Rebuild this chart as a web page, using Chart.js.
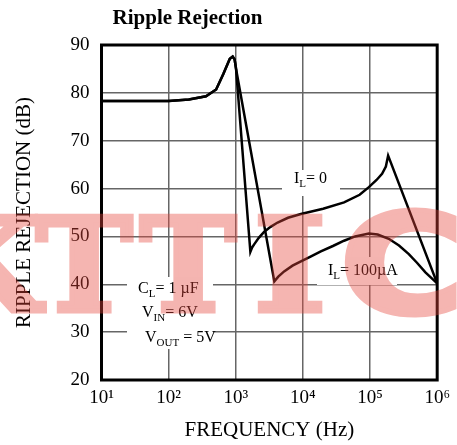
<!DOCTYPE html>
<html>
<head>
<meta charset="utf-8">
<script src="https://cdn.jsdelivr.net/npm/chart.js@4"></script>
<style>
  html, body { margin: 0; padding: 0; background: #fff; }
  canvas { display: block; }
</style>
</head>
<body>
<canvas id="ripple" width="457" height="445"></canvas>
<script>
// values
const freqTicks = [10, 100, 1000, 10000, 100000, 1000000];
const freqTickLabels = ["10\u00b9", "10\u00b2", "10\u00b3", "10\u2074", "10\u2075", "10\u2076"];

// I_L = 0
const freqNoLoad = [10, 100, 200, 360, 510, 650, 815, 900, 960, 1010, 1650, 1750, 1890, 2200, 2660, 3300, 4200, 6000, 9340, 20000, 41000, 70000, 96000, 125000, 151000, 172000, 186000, 1000000];
const dbNoLoad = [78.3, 78.3, 78.6, 79.3, 80.7, 83.9, 87.1, 87.6, 87.0, 85.0, 46.8, 47.7, 48.4, 49.7, 51.0, 52.0, 52.9, 53.9, 54.7, 55.8, 57.1, 58.7, 60.3, 61.8, 63.1, 64.6, 66.9, 40.2];

// I_L = 100uA
const freqLoad = [10, 100, 200, 360, 510, 650, 815, 900, 960, 1010, 3750, 4300, 5250, 7000, 9340, 13000, 18500, 28000, 41000, 60000, 96000, 130000, 190000, 270000, 378000, 500000, 668000, 1000000];
const dbLoad = [78.3, 78.3, 78.6, 79.3, 80.7, 83.9, 87.1, 87.6, 87.0, 85.0, 40.6, 41.6, 42.7, 43.9, 44.8, 45.8, 46.9, 48.0, 49.1, 50.0, 50.6, 50.4, 49.5, 48.1, 46.3, 44.5, 42.5, 40.2];

const SERIF = '"Liberation Serif", "Times New Roman", serif';

function toPoints(xs, ys) {
  return xs.map((f, i) => ({ x: f, y: ys[i] }));
}

// text with a subscript part, e.g. I<sub>L</sub>= 0
function subText(ctx, x, y, main, sub, rest) {
  ctx.font = "16px " + SERIF;
  ctx.fillText(main, x, y);
  x += ctx.measureText(main).width;
  ctx.font = "11px " + SERIF;
  ctx.fillText(sub, x, y + 4);
  x += ctx.measureText(sub).width;
  ctx.font = "16px " + SERIF;
  ctx.fillText(rest, x, y);
}

// watermark is drawn opaque off screen, then laid over with alpha
function watermark(w, h) {
  const c = document.createElement("canvas");
  c.width = w;
  c.height = h;
  const g = c.getContext("2d");
  g.fillStyle = g.strokeStyle = "rgb(230, 70, 60)";
  g.lineWidth = 5;
  g.lineJoin = "miter";
  g.textAlign = "center";
  g.textBaseline = "alphabetic";
  g.font = 'bold 130px "DejaVu Serif"';
  [["K", -16], ["T", 84], ["T", 188]].forEach(([ch, x]) => {
    g.fillText(ch, x, 311);
    g.strokeText(ch, x, 311);
  });
  g.save();
  g.translate(290, 311);
  g.scale(1.2, 1);
  g.fillText("I", 0, 0);
  g.strokeText("I", 0, 0);
  g.restore();
  g.save();
  g.translate(402, 313);
  g.scale(1.25, 1.02);
  g.font = 'bold 136px "DejaVu Sans"';
  g.fillText("C", 0, 0);
  g.strokeText("C", 0, 0);
  g.restore();
  return c;
}

const decor = {
  id: "decor",
  beforeDatasetsDraw(chart) {
    const ctx = chart.ctx;
    ctx.save();
    // white backing behind the notes (breaks the grid)
    ctx.fillStyle = "#fff";
    ctx.fillRect(127, 277, 86, 72);
    ctx.fillRect(282, 170, 58, 26);
    ctx.fillRect(317, 257, 80, 28);

    ctx.fillStyle = "#000";
    ctx.textBaseline = "alphabetic";
    ctx.textAlign = "left";
    subText(ctx, 294, 183, "I", "L", "= 0");
    subText(ctx, 328, 275, "I", "L", "= 100\u00b5A");
    subText(ctx, 138, 293, "C", "L", "= 1 \u00b5F");
    subText(ctx, 142, 317, "V", "IN", "= 6V");
    subText(ctx, 145, 342, "V", "OUT", " = 5V");
    ctx.restore();
  },
  afterDatasetsDraw(chart) {
    const a = chart.chartArea;
    const ctx = chart.ctx;
    ctx.save();
    ctx.strokeStyle = "#000";
    ctx.lineWidth = 3;
    ctx.strokeRect(a.left, a.top, a.right - a.left, a.bottom - a.top);
    ctx.restore();
  },
  afterDraw(chart) {
    const ctx = chart.ctx;
    ctx.save();
    ctx.fillStyle = "#000";
    ctx.font = "bold 21px " + SERIF;
    ctx.textAlign = "center";
    ctx.textBaseline = "alphabetic";
    ctx.fillText("Ripple Rejection", 187.5, 24);

    ctx.globalAlpha = 0.4;
    ctx.drawImage(watermark(chart.width, chart.height), 0, 0);
    ctx.restore();
  },
};

document.addEventListener("DOMContentLoaded", function () {
  const ripple = document.getElementById("ripple");
  new Chart(ripple, {
    type: "line",
    data: {
      datasets: [
        {
          label: "IL = 0",
          data: toPoints(freqNoLoad, dbNoLoad),
          borderColor: "#000",
          borderWidth: 2.5,
          pointRadius: 0,
          fill: false,
          tension: 0,
        },
        {
          label: "IL = 100uA",
          data: toPoints(freqLoad, dbLoad),
          borderColor: "#000",
          borderWidth: 2.5,
          pointRadius: 0,
          fill: false,
          tension: 0,
        },
      ],
    },
    options: {
      responsive: false,
      animation: false,
      layout: {
        padding: { top: 45, right: 19.5, left: 0, bottom: 0 },
      },
      scales: {
        x: {
          type: "logarithmic",
          min: 10,
          max: 1000000,
          afterBuildTicks: function (scale) {
            scale.ticks = freqTicks.map((v) => ({ value: v }));
          },
          afterFit: function (scale) {
            scale.height = 65;
          },
          ticks: {
            autoSkip: false,
            maxRotation: 0,
            padding: 7,
            color: "#000",
            font: { family: SERIF, size: 19 },
            callback: function (value, index) {
              return freqTickLabels[index];
            },
          },
          grid: { color: "#666", lineWidth: 1.5, drawTicks: false },
          border: { display: false },
          title: {
            display: true,
            text: "FREQUENCY (Hz)",
            color: "#000",
            font: { family: SERIF, size: 21 },
            padding: { top: 0, bottom: 2 },
          },
        },
        y: {
          min: 20,
          max: 90,
          afterFit: function (scale) {
            scale.width = 101.5;
          },
          ticks: {
            stepSize: 10,
            padding: 12,
            color: "#000",
            font: { family: SERIF, size: 19 },
          },
          grid: { color: "#666", lineWidth: 1.5, drawTicks: false },
          border: { display: false },
          title: {
            display: true,
            text: "RIPPLE REJECTION (dB)",
            color: "#000",
            font: { family: SERIF, size: 21 },
            padding: { top: 12, bottom: 0 },
          },
        },
      },
      plugins: {
        legend: { display: false },
        tooltip: { enabled: false },
      },
    },
    plugins: [decor],
  });
});
</script>
</body>
</html>
